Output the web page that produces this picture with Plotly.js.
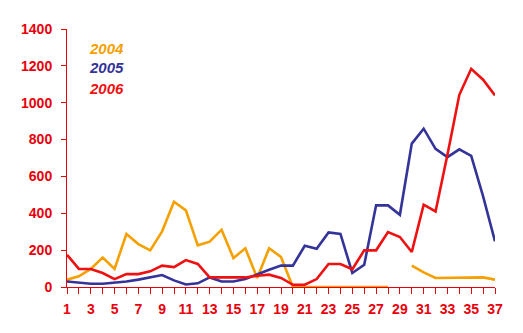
<!DOCTYPE html>
<html>
<head>
<meta charset="utf-8">
<script src="https://cdn.plot.ly/plotly-3.0.1.min.js"></script>
<style>
  html, body { margin: 0; padding: 0; background: #ffffff; }
  #chart { width: 523px; height: 333px; }
</style>
</head>
<body>
<div id="chart"></div>
<script>
// Weekly counts, weeks 1–37, one series per year
const weeks = Array.from({length: 37}, (_, i) => i + 1);

const seriesNames = ["2004", "2005", "2006"];
const seriesColors = ["#F5A000", "#333399", "#EE1111"];

const values2004 = [40, 58, 98, 160, 98, 288, 233, 199, 302, 463, 416, 226, 246, 311, 157, 210, 49, 210, 163,
                    0, 0, 0, 0, 0, 0, 0, 0, 0, null,
                    116, 79, 49, 49, 52, 52, 52, 40];
const values2005 = [30, 25, 18, 18, 22, 30, 40, 54, 65, 36, 14, 20, 52, 30, 30, 43, 70, 94, 116, 116,
                    224, 208, 296, 288, 76, 121, 443, 443, 392, 778, 859, 750, 705, 747, 712, 492, 248];
const values2006 = [175, 98, 98, 76, 43, 70, 70, 85, 116, 108, 146, 125, 52, 52, 52, 52, 61, 67, 49, 12,
                    12, 43, 125, 125, 96, 199, 199, 298, 271, 190, 447, 410, 718, 1043, 1184, 1125, 1040];

const allValues = [values2004, values2005, values2006];

const xTickVals = weeks.filter(w => w % 2 === 1);
const xTickText = xTickVals.map(String);
const yTickVals = [0, 200, 400, 600, 800, 1000, 1200, 1400];

const axisRed = "#E8000B";
const tickFont = {family: "Liberation Sans, Arial, sans-serif", size: 14, color: axisRed, weight: "bold"};

const traces = allValues.map((vals, i) => ({
  x: weeks,
  y: vals,
  type: "scatter",
  mode: "lines",
  name: seriesNames[i],
  line: {color: seriesColors[i], width: 2.6},
  connectgaps: false,
  hoverinfo: "skip"
}));

// Series labels stacked in the upper left of the plot
const labelY = [0.926, 0.849, 0.771];
const annotations = seriesNames.map((name, i) => ({
  xref: "paper", yref: "paper",
  x: 0.046, y: labelY[i],
  xanchor: "left", yanchor: "middle",
  text: "<b><i>" + name + "</i></b>",
  showarrow: false,
  font: {family: "Liberation Sans, Arial, sans-serif", size: 15, color: seriesColors[i]}
}));

const layout = {
  width: 523,
  height: 333,
  margin: {l: 67, r: 28, t: 29, b: 46, pad: 0},
  paper_bgcolor: "#ffffff",
  plot_bgcolor: "#ffffff",
  showlegend: false,
  xaxis: {
    range: [1, 37],
    tickmode: "array",
    tickvals: xTickVals,
    ticktext: xTickText,
    ticks: "outside",
    ticklen: 6,
    tickwidth: 1,
    tickcolor: axisRed,
    minor: {dtick: 1, tick0: 1, ticks: "outside", ticklen: 6, tickwidth: 1, tickcolor: axisRed, showgrid: false},
    showline: true,
    linecolor: axisRed,
    linewidth: 1,
    showgrid: false,
    zeroline: false,
    tickfont: tickFont,
    ticklabelstandoff: 3
  },
  yaxis: {
    range: [0, 1400],
    tickmode: "array",
    tickvals: yTickVals,
    ticktext: yTickVals.map(String),
    ticks: "outside",
    ticklen: 5,
    tickwidth: 1,
    tickcolor: axisRed,
    showline: true,
    linecolor: axisRed,
    linewidth: 1,
    showgrid: false,
    zeroline: false,
    tickfont: tickFont,
    ticklabelstandoff: 6
  },
  annotations: annotations
};

Plotly.newPlot("chart", traces, layout, {staticPlot: true, displayModeBar: false});
</script>
</body>
</html>
